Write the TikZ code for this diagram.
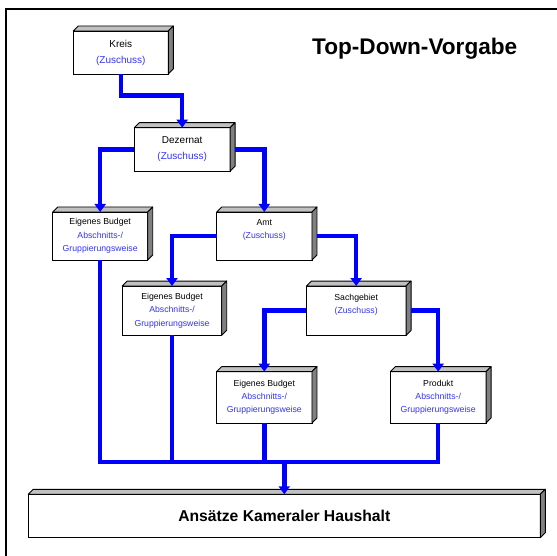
\documentclass[tikz,border=0pt]{standalone}
\usepackage{fontspec}
\setmainfont{Liberation Sans}
\usetikzlibrary{arrows.meta}
\definecolor{topgray}{RGB}{192,192,192}
\definecolor{sidegray}{RGB}{128,128,128}
\definecolor{zblue}{RGB}{51,51,255}
\definecolor{conblue}{RGB}{0,0,255}
\begin{document}
\begin{tikzpicture}[x=1pt,y=-1pt,
 cube/.style={draw, fill=white, line width=0.9pt, rectangle, inner sep=0pt, outer sep=0pt, align=center, text=black},
 big/.style={cube, font=\fontsize{10}{16}\selectfont},
 small/.style={cube, font=\fontsize{8.7}{13.3}\selectfont},
 face/.style={draw, line width=0.9pt, line join=round},
 conn/.style={draw=conblue, line width=4.5pt, line join=miter},
 arr/.style={conn, -{Triangle[width=11pt,length=8pt]}},
]
\useasboundingbox (0,0) rectangle (557,556);
\fill[white] (0,0) rectangle (557,556);
\draw[line width=2pt] (6,556) -- (6,9) -- (557,9);

\node[font=\bfseries\fontsize{22.6}{26}\selectfont] (title) at (414.7,49) {Top-Down-Vorgabe};

\node[big, minimum width=95pt, minimum height=43pt] (kreis) at (120.8,52.5) {Kreis\\\textcolor{zblue}{(Zuschuss)}};
\node[big, minimum width=95.7pt, minimum height=43.6pt] (dez) at (182.2,149.5) {Dezernat\\\textcolor{zblue}{(Zuschuss)}};
\node[small, minimum width=95pt, minimum height=48pt] (eb1) at (100.2,236) {Eigenes Budget\\\textcolor{zblue}{Abschnitts-/}\\\textcolor{zblue}{Gruppierungsweise}};
\node[small, minimum width=95.3pt, minimum height=48pt] (amt) at (264.3,236) {Amt\\\textcolor{zblue}{(Zuschuss)}\\\mbox{}};
\node[small, minimum width=99.4pt, minimum height=49.3pt] (eb2) at (172,310.7) {Eigenes Budget\\\textcolor{zblue}{Abschnitts-/}\\\textcolor{zblue}{Gruppierungsweise}};
\node[small, minimum width=99.7pt, minimum height=49.3pt] (sach) at (356.2,310.7) {Sachgebiet\\\textcolor{zblue}{(Zuschuss)}\\\mbox{}};
\node[small, minimum width=95.3pt, minimum height=51.3pt] (eb3) at (264.3,397.3) {Eigenes Budget\\\textcolor{zblue}{Abschnitts-/}\\\textcolor{zblue}{Gruppierungsweise}};
\node[small, minimum width=95.7pt, minimum height=51.3pt] (prod) at (438.2,397.3) {Produkt\\\textcolor{zblue}{Abschnitts-/}\\\textcolor{zblue}{Gruppierungsweise}};
\node[cube, font=\bfseries\fontsize{15.7}{18}\selectfont, minimum width=512pt, minimum height=43.4pt] (haus) at (284.3,516) {Ansätze Kameraler Haushalt};

\foreach \n in {kreis,dez,eb1,amt,eb2,sach,eb3,prod,haus} {
  \draw[face, fill=topgray] (\n.north west) -- ([shift={(5,-5)}]\n.north west) -- ([shift={(5,-5)}]\n.north east) -- (\n.north east) -- cycle;
  \draw[face, fill=sidegray] (\n.north east) -- ([shift={(5,-5)}]\n.north east) -- ([shift={(5,-5)}]\n.south east) -- (\n.south east) -- cycle;
}

\draw[arr] (kreis.south) -- ++(0,21.7) -| (dez.north);
\draw[arr] (dez.west) -| (eb1.north);
\draw[arr] ([xshift=5pt]dez.east) -| (amt.north);
\draw[arr] (amt.west) -| (eb2.north);
\draw[arr] ([xshift=5pt]amt.east) -| (sach.north);
\draw[arr] (sach.west) -| (eb3.north);
\draw[arr] ([xshift=5pt]sach.east) -| (prod.north);
\coordinate (bus) at (0,462);
\draw[conn] (eb1.south) |- (prod.south |- bus) -- (prod.south);
\draw[conn] (eb2.south) -- (eb2.south |- bus);
\draw[conn] (eb3.south) -- (eb3.south |- bus);
\draw[arr] (haus.north |- bus) -- (haus.north);
\end{tikzpicture}
\end{document}
